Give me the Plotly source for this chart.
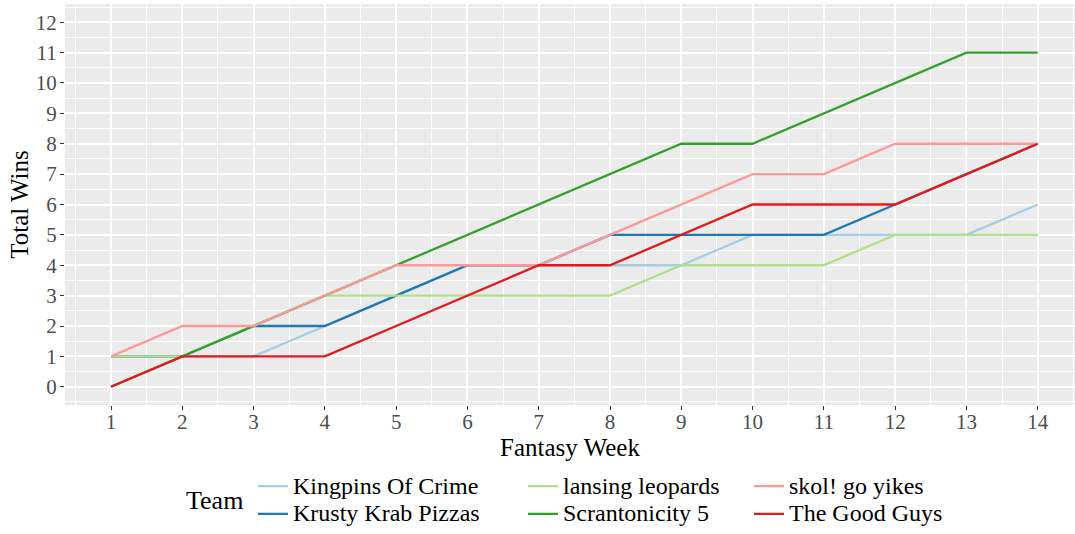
import plotly.graph_objects as go

# ---- data ----
weeks = list(range(1, 15))
teams = ["Kingpins Of Crime", "Krusty Krab Pizzas", "lansing leopards",
         "Scrantonicity 5", "skol! go yikes", "The Good Guys"]
kingpins = [1, 1, 1, 2, 3, 4, 4, 4, 4, 5, 5, 5, 5, 6]
krusty = [1, 1, 2, 2, 3, 4, 4, 5, 5, 5, 5, 6, 7, 8]
lansing = [1, 1, 2, 3, 3, 3, 3, 3, 4, 4, 4, 5, 5, 5]
scranton = [0, 1, 2, 3, 4, 5, 6, 7, 8, 8, 9, 10, 11, 11]
skol = [1, 2, 2, 3, 4, 4, 4, 5, 6, 7, 7, 8, 8, 8]
goodguys = [0, 1, 1, 1, 2, 3, 4, 4, 5, 6, 6, 6, 7, 8]
y_ticks = list(range(0, 13))

series = [kingpins, krusty, lansing, scranton, skol, goodguys]
colors = ["#A6CEE3", "#1F78B4", "#B2DF8A", "#33A02C", "#FB9A99", "#E31A1C"]
legend_ids = ["legend", "legend", "legend2", "legend2", "legend3", "legend3"]

FONT = "Liberation Serif"
LEGEND_TEXT_PX = 24

fig = go.Figure()
for name, vals, col, lg in zip(teams, series, colors, legend_ids):
    fig.add_trace(go.Scatter(
        x=weeks, y=vals, mode="lines",
        name=f'<span style="font-size:{LEGEND_TEXT_PX}px">{name}</span>',
        hovertemplate=f"{name}<br>Week %{{x}}: %{{y}} wins<extra></extra>",
        line=dict(color=col, width=2.3),
        legend=lg,
    ))

W, H = 1075, 534
ML, MR, MT, MB = 65, 0, 4, 129.3
PW = W - ML - MR
PH = H - MT - MB


def px_x(px):
    return (px - ML) / PW


def px_y(py):
    return (H - MB - py) / PH


legend_common = dict(
    orientation="v", xanchor="left", yanchor="top",
    y=px_y(467), bgcolor="rgba(0,0,0,0)",
    font=dict(family=FONT, size=19, color="#000000"),
    traceorder="normal",
)

fig.update_layout(
    width=W, height=H,
    margin=dict(l=ML, r=MR, t=MT, b=MB, autoexpand=False),
    plot_bgcolor="#EBEBEB", paper_bgcolor="white",
    font=dict(family=FONT, color="#000000"),
    showlegend=True,
    legend=dict(x=px_x(253), **legend_common),
    legend2=dict(x=px_x(523), **legend_common),
    legend3=dict(x=px_x(749), **legend_common),
    xaxis=dict(
        range=[0.3547, 14.523], tickmode="array", tickvals=weeks,
        ticks="outside", ticklen=4, tickwidth=1, tickcolor="#333333",
        tickfont=dict(family=FONT, size=21, color="#4D4D4D"),
        ticklabelstandoff=-6,
        showgrid=True, gridcolor="white", gridwidth=1.6,
        zeroline=False, showline=False,
        minor=dict(tick0=0, dtick=0.5, showgrid=True, gridcolor="white",
                   gridwidth=0.7, ticks=""),
        title=dict(text="Fantasy Week", standoff=0,
                   font=dict(family=FONT, size=25, color="#000000")),
    ),
    yaxis=dict(
        range=[-0.6, 12.6], tickmode="array", tickvals=y_ticks,
        ticks="outside", ticklen=4, tickwidth=1, tickcolor="#333333",
        tickfont=dict(family=FONT, size=21, color="#4D4D4D"),
        ticklabelstandoff=-1,
        showgrid=True, gridcolor="white", gridwidth=1.6,
        zeroline=False, showline=False,
        minor=dict(tick0=0, dtick=0.5, showgrid=True, gridcolor="white",
                   gridwidth=0.7, ticks=""),
        title=dict(text="Total Wins", standoff=0,
                   font=dict(family=FONT, size=25, color="#000000")),
    ),
    annotations=[dict(
        text="Team", xref="paper", yref="paper",
        x=px_x(214), y=px_y(500), xanchor="center", yanchor="middle",
        showarrow=False, font=dict(family=FONT, size=26, color="#000000"),
    )],
)

fig.write_html("out.html", config={"displayModeBar": False},
               post_script="document.body.style.margin='0px';")
